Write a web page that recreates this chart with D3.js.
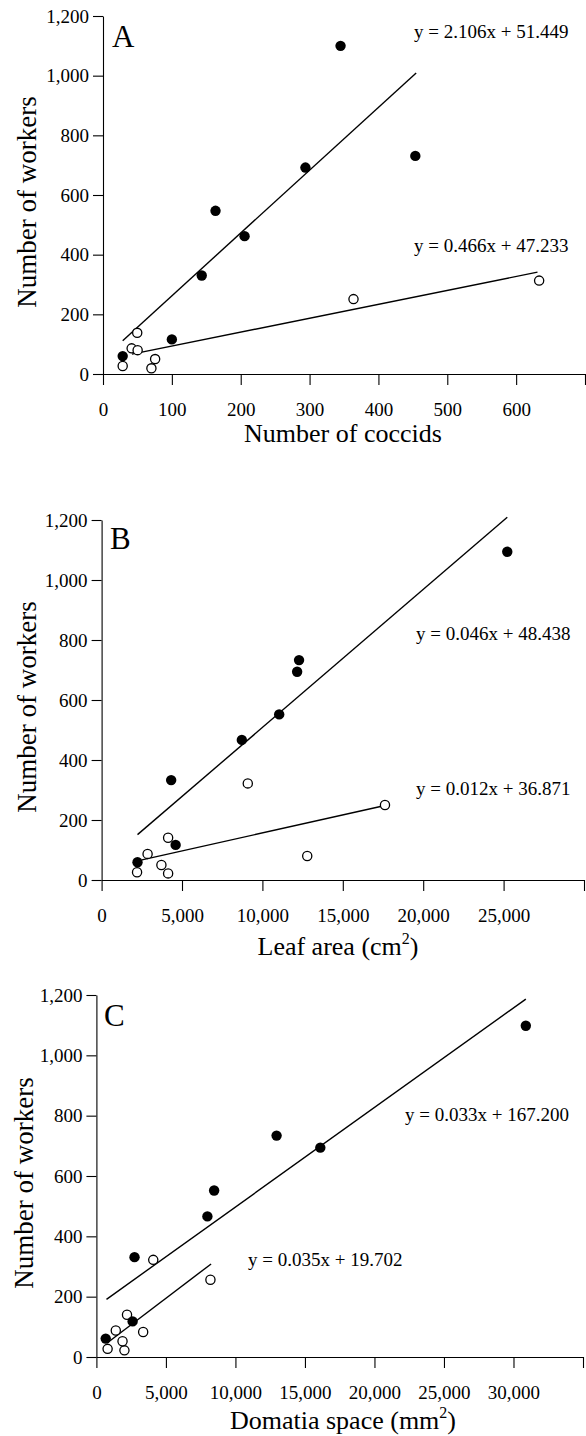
<!DOCTYPE html>
<html>
<head>
<meta charset="utf-8">
<script src="https://cdn.jsdelivr.net/npm/d3@7"></script>
<style>
  html, body { margin: 0; padding: 0; background: #fff; }
  svg { display: block; }
  text { font-family: "Liberation Serif", "Times New Roman", serif; fill: #000; }
</style>
</head>
<body>
<svg id="chart" width="586" height="1436"></svg>
<script>
// ---------------- DATA ----------------
// Panel A: Number of coccids vs number of workers
const coccidsFilled = [28.6, 100, 143.4, 163.4, 205.6, 294, 345, 453.6];
const workersFilledA = [60, 116, 330, 547, 462, 692, 1100, 731];
const coccidsOpen = [28.6, 41.6, 49.7, 50.3, 70.3, 75.7, 363.8, 633.4];
const workersOpenA = [27, 86, 138, 80, 19, 50, 251, 313];

// Panel B: Leaf area (cm2) vs number of workers
const leafFilled = [2233, 4605, 4326, 11044, 8721, 12160, 25228, 12279];
const workersFilledB = [59, 117, 333, 552, 467, 694, 1094, 733];
const leafOpen = [2205, 2860, 4137, 12788, 4137, 3719, 17623, 9091];
const workersOpenB = [26, 87, 141, 80, 22, 50, 250, 322];

// Panel C: Domatia space (mm2) vs number of workers
const domatiaFilled = [669, 2605, 2742, 8468, 7984, 16105, 30887, 12960];
const workersFilledC = [61, 118, 331, 552, 466, 694, 1098, 734];
const domatiaOpen = [806, 1395, 2202, 3363, 2016, 1879, 8202, 4089];
const workersOpenC = [27, 88, 140, 83, 22, 52, 256, 322];

// Regression equations: [slope, intercept], and x extent of each fitted line
const slopesFilled = [2.106, 0.046, 0.033];
const interceptsFilled = [51.449, 48.438, 167.200];
const slopesOpen = [0.466, 0.012, 0.035];
const interceptsOpen = [47.233, 36.871, 19.702];
const lineExtentFilled = [[28.6, 454.8], [2233, 25228], [726, 30887]];
const lineExtentOpen = [[42, 631], [2512, 17623], [863, 8250]];

const equationLabelsFilled = ["y = 2.106x + 51.449", "y = 0.046x + 48.438", "y = 0.033x + 167.200"];
const equationLabelsOpen = ["y = 0.466x + 47.233", "y = 0.012x + 36.871", "y = 0.035x + 19.702"];

const panelLetters = ["A", "B", "C"];
const xTitles = ["Number of coccids", "Leaf area (cm", "Domatia space (mm"];
const xTitleSup = ["", "2", "2"];
const yTitle = "Number of workers";
const xMax = [700, 30000, 35000];
const xTickStep = [100, 5000, 5000];
const yTicks = [0, 200, 400, 600, 800, 1000, 1200];

// ---------------- LAYOUT ----------------
const layout = [
  { left: 103, right: 585, top: 16, bottom: 374,
    letter: [112, 47], eqF: [414, 38], eqO: [414, 252], yTitle: [36, 202], xTitle: [343, 442] },
  { left: 101.6, right: 584, top: 520, bottom: 880,
    letter: [110, 549], eqF: [416, 640], eqO: [416, 795], yTitle: [36, 707], xTitle: [338, 955] },
  { left: 96.4, right: 583, top: 995, bottom: 1357,
    letter: [104, 1026], eqF: [405, 1121], eqO: [248, 1266], yTitle: [33, 1183], xTitle: [343, 1429] }
];

const filledX = [coccidsFilled, leafFilled, domatiaFilled];
const filledY = [workersFilledA, workersFilledB, workersFilledC];
const openX = [coccidsOpen, leafOpen, domatiaOpen];
const openY = [workersOpenA, workersOpenB, workersOpenC];

const svg = d3.select("#chart");
const fmt = d3.format(",");

layout.forEach((L, i) => {
  const g = svg.append("g");
  const x = d3.scaleLinear().domain([0, xMax[i]]).range([L.left, L.right]);
  const y = d3.scaleLinear().domain([0, 1200]).range([L.bottom, L.top]);

  const xt = d3.range(0, xMax[i] + 1, xTickStep[i]);
  const xAxis = d3.axisBottom(x).tickValues(xt).tickSize(11).tickSizeOuter(0)
    .tickFormat(d => d === xMax[i] ? "" : fmt(d));
  const gx = g.append("g").attr("transform", `translate(0,${L.bottom})`).call(xAxis);
  gx.select(".domain").attr("stroke", "#000").attr("stroke-width", 1.1);
  gx.selectAll(".tick line").attr("stroke", "#000").attr("stroke-width", 1.1);
  gx.selectAll(".tick text").attr("font-size", 19).attr("dy", null).attr("y", 42)
    .style("font-family", '"Liberation Serif", "Times New Roman", serif');

  const yAxis = d3.axisLeft(y).tickValues(yTicks).tickSize(10).tickSizeOuter(0).tickFormat(fmt);
  const gy = g.append("g").attr("transform", `translate(${L.left},0)`).call(yAxis);
  gy.select(".domain").attr("stroke", "#000").attr("stroke-width", 1.1);
  gy.selectAll(".tick line").attr("stroke", "#000").attr("stroke-width", 1.1);
  gy.selectAll(".tick text").attr("font-size", 19).attr("x", -14)
    .style("font-family", '"Liberation Serif", "Times New Roman", serif');
  g.selectAll(".tick text").attr("fill", "#000");

  // regression lines
  const line = d3.line().x(d => x(d[0])).y(d => y(d[1]));
  const fLine = lineExtentFilled[i].map(v => [v, slopesFilled[i] * v + interceptsFilled[i]]);
  const oLine = lineExtentOpen[i].map(v => [v, slopesOpen[i] * v + interceptsOpen[i]]);
  g.append("path").attr("d", line(fLine)).attr("fill", "none").attr("stroke", "#000").attr("stroke-width", 1.4);
  g.append("path").attr("d", line(oLine)).attr("fill", "none").attr("stroke", "#000").attr("stroke-width", 1.4);

  // points
  const openData = openX[i].map((v, k) => [v, openY[i][k]]);
  const filledData = filledX[i].map((v, k) => [v, filledY[i][k]]);
  g.selectAll("circle.open").data(openData).join("circle").attr("class", "open")
    .attr("cx", d => x(d[0])).attr("cy", d => y(d[1])).attr("r", 4.6)
    .attr("fill", "#fff").attr("stroke", "#000").attr("stroke-width", 1.3);
  g.selectAll("circle.filled").data(filledData).join("circle").attr("class", "filled")
    .attr("cx", d => x(d[0])).attr("cy", d => y(d[1])).attr("r", 5.2)
    .attr("fill", "#000");

  // texts
  g.append("text").attr("x", L.letter[0]).attr("y", L.letter[1]).attr("font-size", 31).text(panelLetters[i]);
  g.append("text").attr("x", L.eqF[0]).attr("y", L.eqF[1]).attr("font-size", 19).text(equationLabelsFilled[i]);
  g.append("text").attr("x", L.eqO[0]).attr("y", L.eqO[1]).attr("font-size", 19).text(equationLabelsOpen[i]);
  g.append("text").attr("transform", `translate(${L.yTitle[0]},${L.yTitle[1]}) rotate(-90)`)
    .attr("text-anchor", "middle").attr("font-size", 27).text(yTitle);
  const xt2 = g.append("text").attr("x", L.xTitle[0]).attr("y", L.xTitle[1])
    .attr("text-anchor", "middle").attr("font-size", 26);
  xt2.append("tspan").text(xTitles[i]);
  if (xTitleSup[i]) {
    xt2.append("tspan").attr("dy", -11).attr("font-size", 16).text(xTitleSup[i]);
    xt2.append("tspan").attr("dy", 11).text(")");
  }
});
</script>
</body>
</html>
